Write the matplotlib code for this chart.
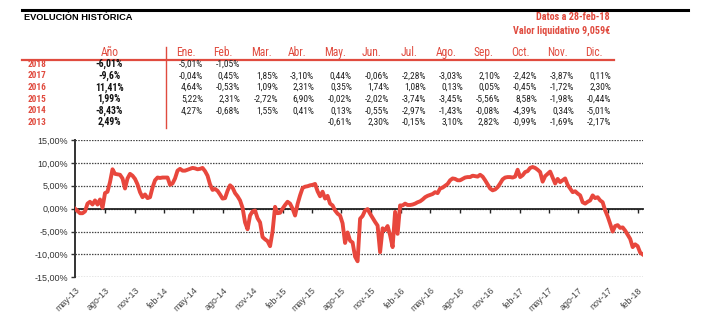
import matplotlib
matplotlib.use("Agg")
import matplotlib.pyplot as plt
from matplotlib import font_manager
import matplotlib.ticker as mticker
import numpy as np
import pandas as pd

# monthly returns table
years = ["2018", "2017", "2016", "2015", "2014", "2013"]
year_totals = ["-6,01%", "-9,6%", "11,41%", "1,99%", "-8,43%", "2,49%"]
months = ["Ene.", "Feb.", "Mar.", "Abr.", "May.", "Jun.", "Jul.", "Ago.", "Sep.", "Oct.", "Nov.", "Dic."]
monthly = [
    ["-5,01%", "-1,05%", "", "", "", "", "", "", "", "", "", ""],
    ["-0,04%", "0,45%", "1,85%", "-3,10%", "0,44%", "-0,06%", "-2,28%", "-3,03%", "2,10%", "-2,42%", "-3,87%", "0,11%"],
    ["4,64%", "-0,53%", "1,09%", "2,31%", "0,35%", "1,74%", "1,08%", "0,13%", "0,05%", "-0,45%", "-1,72%", "2,30%"],
    ["5,22%", "2,31%", "-2,72%", "6,90%", "-0,02%", "-2,02%", "-3,74%", "-3,45%", "-5,56%", "8,58%", "-1,98%", "-0,44%"],
    ["4,27%", "-0,68%", "1,55%", "0,41%", "0,13%", "-0,55%", "-2,97%", "-1,43%", "-0,08%", "-4,39%", "0,34%", "-5,01%"],
    ["", "", "", "", "-0,61%", "2,30%", "-0,15%", "3,10%", "2,82%", "-0,99%", "-1,69%", "-2,17%"],
]

# cumulative return (%) of the fund, evenly spaced from may-13 to feb-18
cum_return = [
    0.0, -0.5, -1.0, -1.0, -0.6, 1.1, 1.5, 0.9, 1.8, 0.9,
    2.0, 0.2, 3.4, 3.7, 5.8, 8.6, 7.6, 7.5, 7.4, 6.6,
    4.4, 6.6, 7.6, 7.2, 6.5, 5.3, 3.6, 2.5, 3.1, 2.3,
    2.5, 4.6, 6.2, 6.8, 6.7, 6.8, 6.8, 6.8, 5.2, 5.5,
    6.6, 8.3, 8.7, 8.3, 8.3, 8.5, 8.7, 8.9, 8.8, 8.6,
    8.7, 8.9, 8.2, 7.2, 5.3, 4.1, 4.3, 3.9, 3.1, 2.2,
    2.3, 3.9, 5.1, 4.6, 3.4, 2.7, 1.8, 0.2, -3.0, -4.5,
    -1.5, -0.6, -0.4, -2.1, -3.0, -6.2, -6.7, -7.1, -8.2, -5.0,
    0.4, -1.0, -0.9, 0.0, 0.8, 1.5, 1.1, 0.0, -1.5, 1.0,
    2.9, 4.5, 4.8, 4.9, 5.1, 5.2, 5.4, 3.8, 2.7, 3.7,
    2.2, 2.8, 1.1, 0.7, -0.4, -1.1, -1.5, -3.2, -7.5, -5.2,
    -7.0, -7.4, -10.5, -11.5, -2.2, -1.6, -0.4, -0.1, -1.1, -2.0,
    -2.9, -3.7, -9.5, -4.3, -4.7, -3.8, -5.8, -8.4, -0.7, -5.5,
    0.7, 0.7, 1.1, 0.8, 0.8, 0.9, 1.1, 1.4, 1.6, 2.0,
    2.5, 2.8, 3.0, 3.2, 3.6, 3.4, 4.4, 4.6, 5.0, 5.4,
    6.2, 6.6, 6.5, 6.2, 6.2, 6.5, 6.8, 6.9, 6.9, 7.2,
    7.1, 7.0, 7.4, 7.0, 6.2, 5.3, 4.4, 4.0, 4.2, 4.7,
    5.5, 6.4, 6.8, 6.9, 6.9, 6.8, 7.0, 8.5, 6.9, 7.3,
    8.0, 8.2, 8.9, 9.1, 8.9, 8.5, 8.0, 5.9, 7.1, 7.6,
    8.1, 6.8, 5.5, 6.5, 5.8, 6.2, 6.6, 5.2, 4.4, 3.6,
    3.8, 3.3, 2.9, 1.4, 1.1, 1.5, 1.8, 2.9, 2.3, 2.5,
    1.8, 1.4, -0.4, -1.7, -3.3, -5.0, -3.8, -3.6, -4.2, -4.1,
    -4.8, -5.7, -6.6, -8.4, -7.8, -8.2, -9.6, -10.0,
]
dates = pd.date_range("2013-05-01", "2018-02-15", periods=len(cum_return))

RED = "#E04B3F"
LINE_RED = "#E8473D"
W, H = 705, 326

have = {f.name for f in font_manager.fontManager.ttflist}
narrow = next((n for n in ["Roboto Condensed", "Arial Narrow", "Liberation Sans Narrow",
                           "Archivo Narrow", "PT Sans Narrow"] if n in have), "Liberation Sans")
plt.rcParams["font.family"] = ["Liberation Sans", "DejaVu Sans"]


def px(x, y):
    return x / W, 1 - y / H


fig = plt.figure(figsize=(W / 100, H / 100), dpi=100)

# header band
fig.add_artist(plt.Line2D([22 / W, 688 / W], [1 - 10 / H, 1 - 10 / H], color="black", lw=2.2))
fig.text(*px(24, 20.2), "EVOLUCIÓN HISTÓRICA", fontsize=6.7, weight="bold", va="baseline")
fig.text(*px(610, 20.3), "Datos a 28-feb-18", family=narrow, fontsize=7.3, weight="bold",
         color=RED, ha="right", va="baseline")
fig.text(*px(610, 33.3), "Valor liquidativo 9,059€", family=narrow, fontsize=7.3, weight="bold",
         color=RED, ha="right", va="baseline")

# returns table
col_right = [203, 240, 278, 314, 352, 389, 426, 463, 500, 537, 574, 611]
row_y = [64.3, 75.9, 87.5, 99.1, 110.7, 122.3]
fig.text(*px(110, 52.5), "Año", family=narrow, fontsize=8.3, color=RED, ha="center", va="center")
for m, xr in zip(months, col_right):
    fig.text(*px(xr - 17, 52.5), m, family=narrow, fontsize=8.3, color=RED, ha="center", va="center")
fig.add_artist(plt.Line2D([22 / W, 614 / W], [1 - 59.5 / H, 1 - 59.5 / H], color=RED, lw=1.6))
fig.add_artist(plt.Line2D([166 / W, 166 / W], [1 - 47 / H, 1 - 128 / H], color=RED, lw=1.0))
for yr, tot, vals, y in zip(years, year_totals, monthly, row_y):
    fig.text(*px(28, y), yr, family=narrow, fontsize=6.7, weight="bold", color=RED, va="center")
    fig.text(*px(109, y), tot, family=narrow, fontsize=7.0, weight="bold", color="#111111",
             ha="center", va="center")
    for v, xr in zip(vals, col_right):
        if v:
            fig.text(*px(xr, y), v, family=narrow, fontsize=6.8, color="#222222",
                     ha="right", va="center")

# chart
ax = fig.add_axes([75 / W, 1 - 277.3 / H, (643 - 75) / W, (277.3 - 140) / H])
ax.plot(dates, cum_return, color=LINE_RED, lw=2.8, solid_joinstyle="round", zorder=3)

ax.set_xlim(pd.Timestamp("2013-05-01"), pd.Timestamp("2018-02-16"))
ax.set_ylim(-15, 15)
ax.set_yticks(np.arange(-15, 16, 5))
ax.yaxis.set_major_formatter(mticker.FuncFormatter(lambda v, p: f"{v:.2f}%".replace(".", ",")))
ax.grid(axis="y", color="#444444", lw=0.9, linestyle=(0, (1.2, 1.0)))
ax.set_axisbelow(True)

for s in ["top", "right"]:
    ax.spines[s].set_visible(False)
ax.spines["left"].set_color("#333333")
ax.spines["left"].set_linewidth(1.4)
ax.spines["bottom"].set_position(("data", 0))
ax.spines["bottom"].set_color("#222222")
ax.spines["bottom"].set_linewidth(1.3)
ax.tick_params(axis="y", length=3, width=1, color="#333333", labelsize=6.5, labelcolor="#333333", pad=2)

tick_dates = pd.date_range("2013-05-01", "2018-02-01", freq="3MS")
mes = {2: "feb", 5: "may", 8: "ago", 11: "nov"}
tick_labels = [f"{mes[d.month]}-{d.strftime('%y')}" for d in tick_dates]
ax.set_xticks(tick_dates)
ax.tick_params(axis="x", direction="out", length=3, width=1, color="#222222", labelbottom=False)

sec = ax.secondary_xaxis(0.0)
sec.set_xticks(tick_dates, labels=tick_labels)
sec.spines["bottom"].set_visible(False)
sec.tick_params(axis="x", length=0, labelsize=6.4, labelcolor="#444444", pad=6)
for lab in sec.get_xticklabels():
    lab.set_rotation(45)
    lab.set_ha("right")
    lab.set_rotation_mode("anchor")

fig.savefig("out.png", dpi=100)
